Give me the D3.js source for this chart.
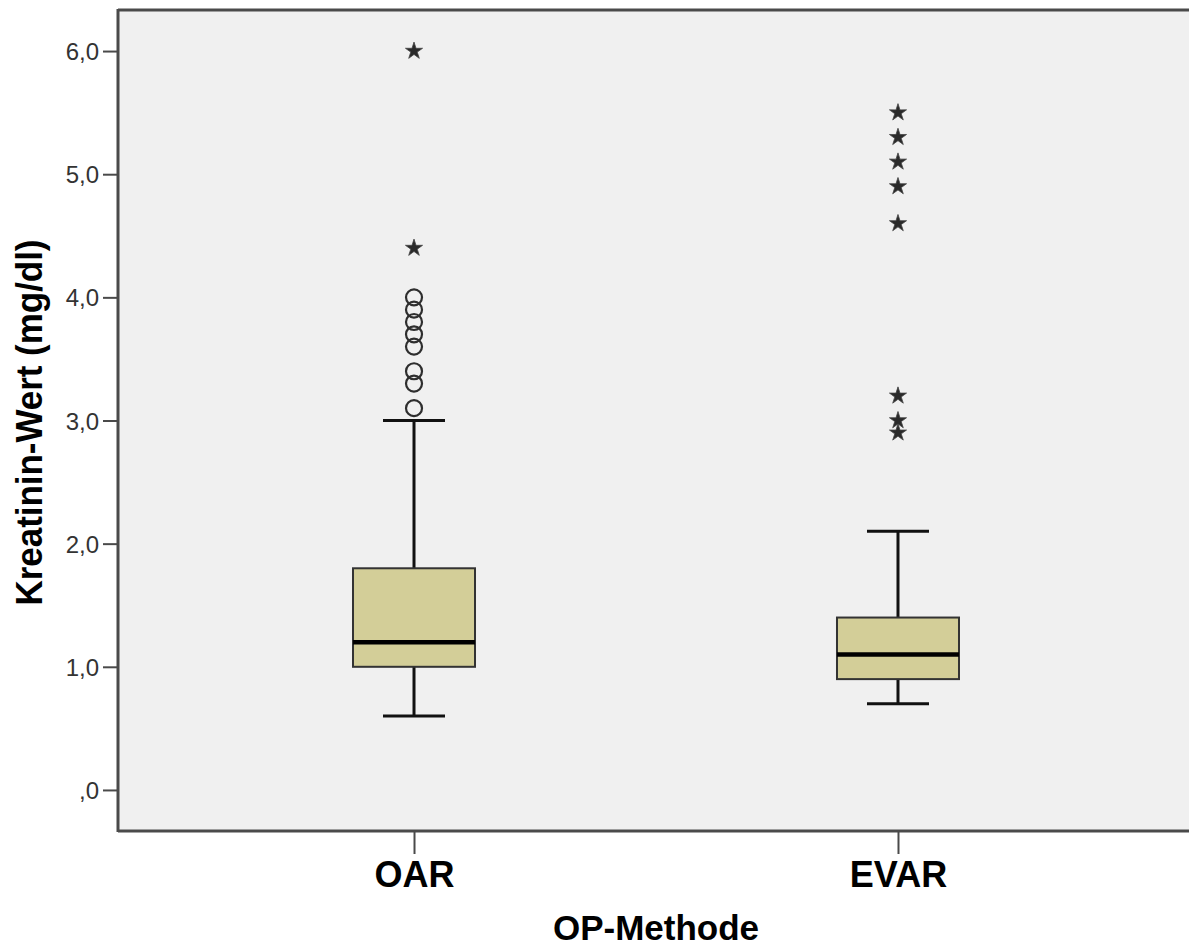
<!DOCTYPE html>
<html>
<head>
<meta charset="utf-8">
<script src="https://cdn.jsdelivr.net/npm/d3@7"></script>
<style>
  html, body { margin: 0; padding: 0; background: #ffffff; }
  svg { display: block; font-family: "Liberation Sans", Arial, sans-serif; }
</style>
</head>
<body>
<svg id="chart" width="1189" height="950"></svg>
<script>
// Kreatinin-Wert by OP-Methode: box plot summary statistics
const categories = ["OAR", "EVAR"];
const whiskerLow  = [0.6, 0.7];
const q1          = [1.0, 0.9];
const medians     = [1.2, 1.1];
const q3          = [1.8, 1.4];
const whiskerHigh = [3.0, 2.1];
// mild outliers (circles) and extreme values (stars)
const outliers = [
  [3.1, 3.3, 3.4, 3.6, 3.7, 3.8, 3.9, 4.0],
  []
];
const extremes = [
  [4.4, 6.0],
  [2.9, 3.0, 3.2, 4.6, 4.9, 5.1, 5.3, 5.5]
];
const yTicks = [0, 1, 2, 3, 4, 5, 6];
const yTitle = "Kreatinin-Wert (mg/dl)";
const xTitle = "OP-Methode";

const svg = d3.select("#chart");
const plot = { left: 118, top: 10, right: 1194, bottom: 831 };

const y = d3.scaleLinear().domain([-1/3, 6 + 1/3]).range([plot.bottom, plot.top]);
const x = d3.scalePoint().domain(categories).range([plot.left, plot.right]).padding(0.6116);

const boxWidth = 122;
const capWidth = 62;
const axisColor = "#4a4a4a";

// plot background
svg.append("rect")
  .attr("x", plot.left).attr("y", plot.top)
  .attr("width", 1189 - plot.left).attr("height", plot.bottom - plot.top)
  .attr("fill", "#f0f0f0");

// five-pointed star with slender arms
function starPath(rOuter, rInner) {
  const pts = [];
  for (let k = 0; k < 10; k++) {
    const r = k % 2 === 0 ? rOuter : rInner;
    const a = -Math.PI / 2 + k * Math.PI / 5;
    pts.push([r * Math.cos(a), r * Math.sin(a)]);
  }
  return "M" + pts.map(p => p[0].toFixed(2) + "," + p[1].toFixed(2)).join("L") + "Z";
}
const starD = starPath(9, 3.4);

// boxes, whiskers and caps
const groups = svg.selectAll("g.box").data(categories).join("g").attr("class", "box");
groups.each(function (cat, i) {
  const g = d3.select(this);
  const cx = x(cat);
  // whiskers
  g.append("line").attr("x1", cx).attr("x2", cx)
    .attr("y1", y(q3[i])).attr("y2", y(whiskerHigh[i]))
    .attr("stroke", "#111").attr("stroke-width", 3);
  g.append("line").attr("x1", cx).attr("x2", cx)
    .attr("y1", y(q1[i])).attr("y2", y(whiskerLow[i]))
    .attr("stroke", "#111").attr("stroke-width", 3);
  // caps
  [whiskerHigh[i], whiskerLow[i]].forEach(v => {
    g.append("line").attr("x1", cx - capWidth / 2).attr("x2", cx + capWidth / 2)
      .attr("y1", y(v)).attr("y2", y(v))
      .attr("stroke", "#111").attr("stroke-width", 3);
  });
  // box
  g.append("rect")
    .attr("x", cx - boxWidth / 2).attr("width", boxWidth)
    .attr("y", y(q3[i])).attr("height", y(q1[i]) - y(q3[i]))
    .attr("fill", "#d3ce98").attr("stroke", "#333").attr("stroke-width", 2);
  // median
  g.append("line").attr("x1", cx - boxWidth / 2).attr("x2", cx + boxWidth / 2)
    .attr("y1", y(medians[i])).attr("y2", y(medians[i]))
    .attr("stroke", "#000").attr("stroke-width", 4.5);
  // outlier circles
  g.selectAll("circle.out").data(outliers[i]).join("circle")
    .attr("class", "out")
    .attr("cx", cx).attr("cy", d => y(d)).attr("r", 8)
    .attr("fill", "none").attr("stroke", "#2e2e2e").attr("stroke-width", 2.2);
  // extreme value stars
  g.selectAll("path.ext").data(extremes[i]).join("path")
    .attr("class", "ext")
    .attr("transform", d => `translate(${cx},${y(d)})`)
    .attr("d", starD)
    .attr("fill", "#2a2a2a").attr("stroke", "#444").attr("stroke-width", 0.8)
    .attr("stroke-linejoin", "round");
});

// y axis
const yAxis = svg.append("g").attr("transform", `translate(${plot.left},0)`)
  .call(d3.axisLeft(y).tickValues(yTicks).tickSize(15).tickPadding(4)
    .tickFormat(d => d === 0 ? ",0" : d3.format(".1f")(d).replace(".", ",")));
yAxis.select(".domain").remove();
yAxis.selectAll(".tick line").attr("stroke", axisColor).attr("stroke-width", 2);
yAxis.selectAll(".tick text")
  .attr("fill", "#333").attr("font-size", 24).attr("dy", "0.36em");

// x axis
const xAxis = svg.append("g").attr("transform", `translate(0,${plot.bottom})`)
  .call(d3.axisBottom(x).tickSize(23).tickPadding(6).tickFormat(d => d));
xAxis.select(".domain").remove();
xAxis.selectAll(".tick line").attr("stroke", axisColor).attr("stroke-width", 2);
xAxis.selectAll(".tick text")
  .attr("fill", "#000").attr("font-size", 36).attr("font-weight", "bold")
  .attr("dy", null).attr("y", 56);

// frame lines: left axis, bottom axis, top border
svg.append("line").attr("x1", plot.left).attr("x2", plot.left)
  .attr("y1", plot.top - 1).attr("y2", plot.bottom + 1)
  .attr("stroke", axisColor).attr("stroke-width", 3);
svg.append("line").attr("x1", plot.left).attr("x2", 1189)
  .attr("y1", plot.bottom).attr("y2", plot.bottom)
  .attr("stroke", axisColor).attr("stroke-width", 3);
svg.append("line").attr("x1", plot.left).attr("x2", 1189)
  .attr("y1", plot.top).attr("y2", plot.top)
  .attr("stroke", axisColor).attr("stroke-width", 3);

// axis titles
svg.append("text")
  .attr("transform", `translate(42,${(plot.top + plot.bottom) / 2 + 2}) rotate(-90)`)
  .attr("text-anchor", "middle")
  .attr("font-size", 36).attr("font-weight", "bold").attr("fill", "#000")
  .attr("textLength", 366).attr("lengthAdjust", "spacingAndGlyphs")
  .text(yTitle);

svg.append("text")
  .attr("x", (x(categories[0]) + x(categories[1])) / 2).attr("y", 940)
  .attr("text-anchor", "middle")
  .attr("font-size", 35).attr("font-weight", "bold").attr("fill", "#000")
  .text(xTitle);
</script>
</body>
</html>
